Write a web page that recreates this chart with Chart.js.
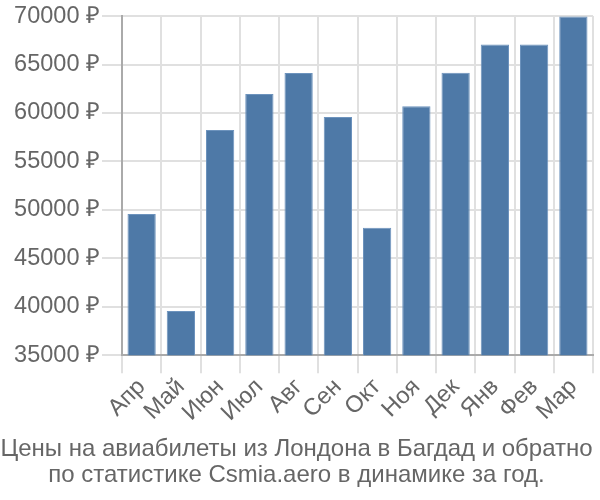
<!DOCTYPE html>
<html><head><meta charset="utf-8">
<script src="https://cdn.jsdelivr.net/npm/chart.js@4"></script>
<style>html,body{margin:0;padding:0;background:#fff}#w{width:600px;height:500px}</style>
</head><body><div id="w"><canvas id="c"></canvas></div>
<script>
const categories = ["Апр","Май","Июн","Июл","Авг","Сен","Окт","Ноя","Дек","Янв","Фев","Мар"];
const prices = [49560, 39560, 58250, 61960, 64130, 59590, 48150, 60690, 64140, 67080, 67080, 69970];
const yTicks = [35000, 40000, 45000, 50000, 55000, 60000, 65000, 70000];
const titleLines = ["Цены на авиабилеты из Лондона в Багдад и обратно", "по статистике Csmia.aero в динамике за год."];
const FONT = 'Liberation Sans, Arial, sans-serif';

new Chart(document.getElementById('c'), {
  type: 'bar',
  data: { labels: categories, datasets: [{ data: prices, backgroundColor: '#4e79a7', borderColor: '#6d93bd', borderWidth: 1 }] },
  options: {
    responsive: true, maintainAspectRatio: false, animation: false,
    layout: { padding: { left: 0, right: 7, top: 15, bottom: 12 } },
    plugins: {
      legend: { display: false }, tooltip: { enabled: false },
      title: { display: true, position: 'bottom', text: titleLines, color: '#666', font: { family: FONT, size: 24, weight: 'normal', lineHeight: 1.08 }, padding: { top: 0, bottom: 0 } }
    },
    scales: {
      x: {
        afterFit: s => { s.height = 81; },
        grid: { color: '#e0e0e0', lineWidth: 2, tickLength: 18, offset: true },
        border: { color: '#aaa', width: 2 },
        ticks: { color: '#666', font: { family: FONT, size: 23.5 }, maxRotation: 45, minRotation: 45, padding: 0, autoSkip: false }
      },
      y: {
        min: 35000, max: 70000,
        afterFit: s => { s.width = 122; },
        afterBuildTicks: s => { s.ticks = yTicks.map(v => ({ value: v })); },
        grid: { color: '#e0e0e0', lineWidth: 2, tickLength: 20 },
        border: { color: '#aaa', width: 2 },
        ticks: { color: '#666', font: { family: FONT, size: 23.5 }, padding: 2, callback: v => v + ' ₽' }
      }
    }
  }
});
</script></body></html>
